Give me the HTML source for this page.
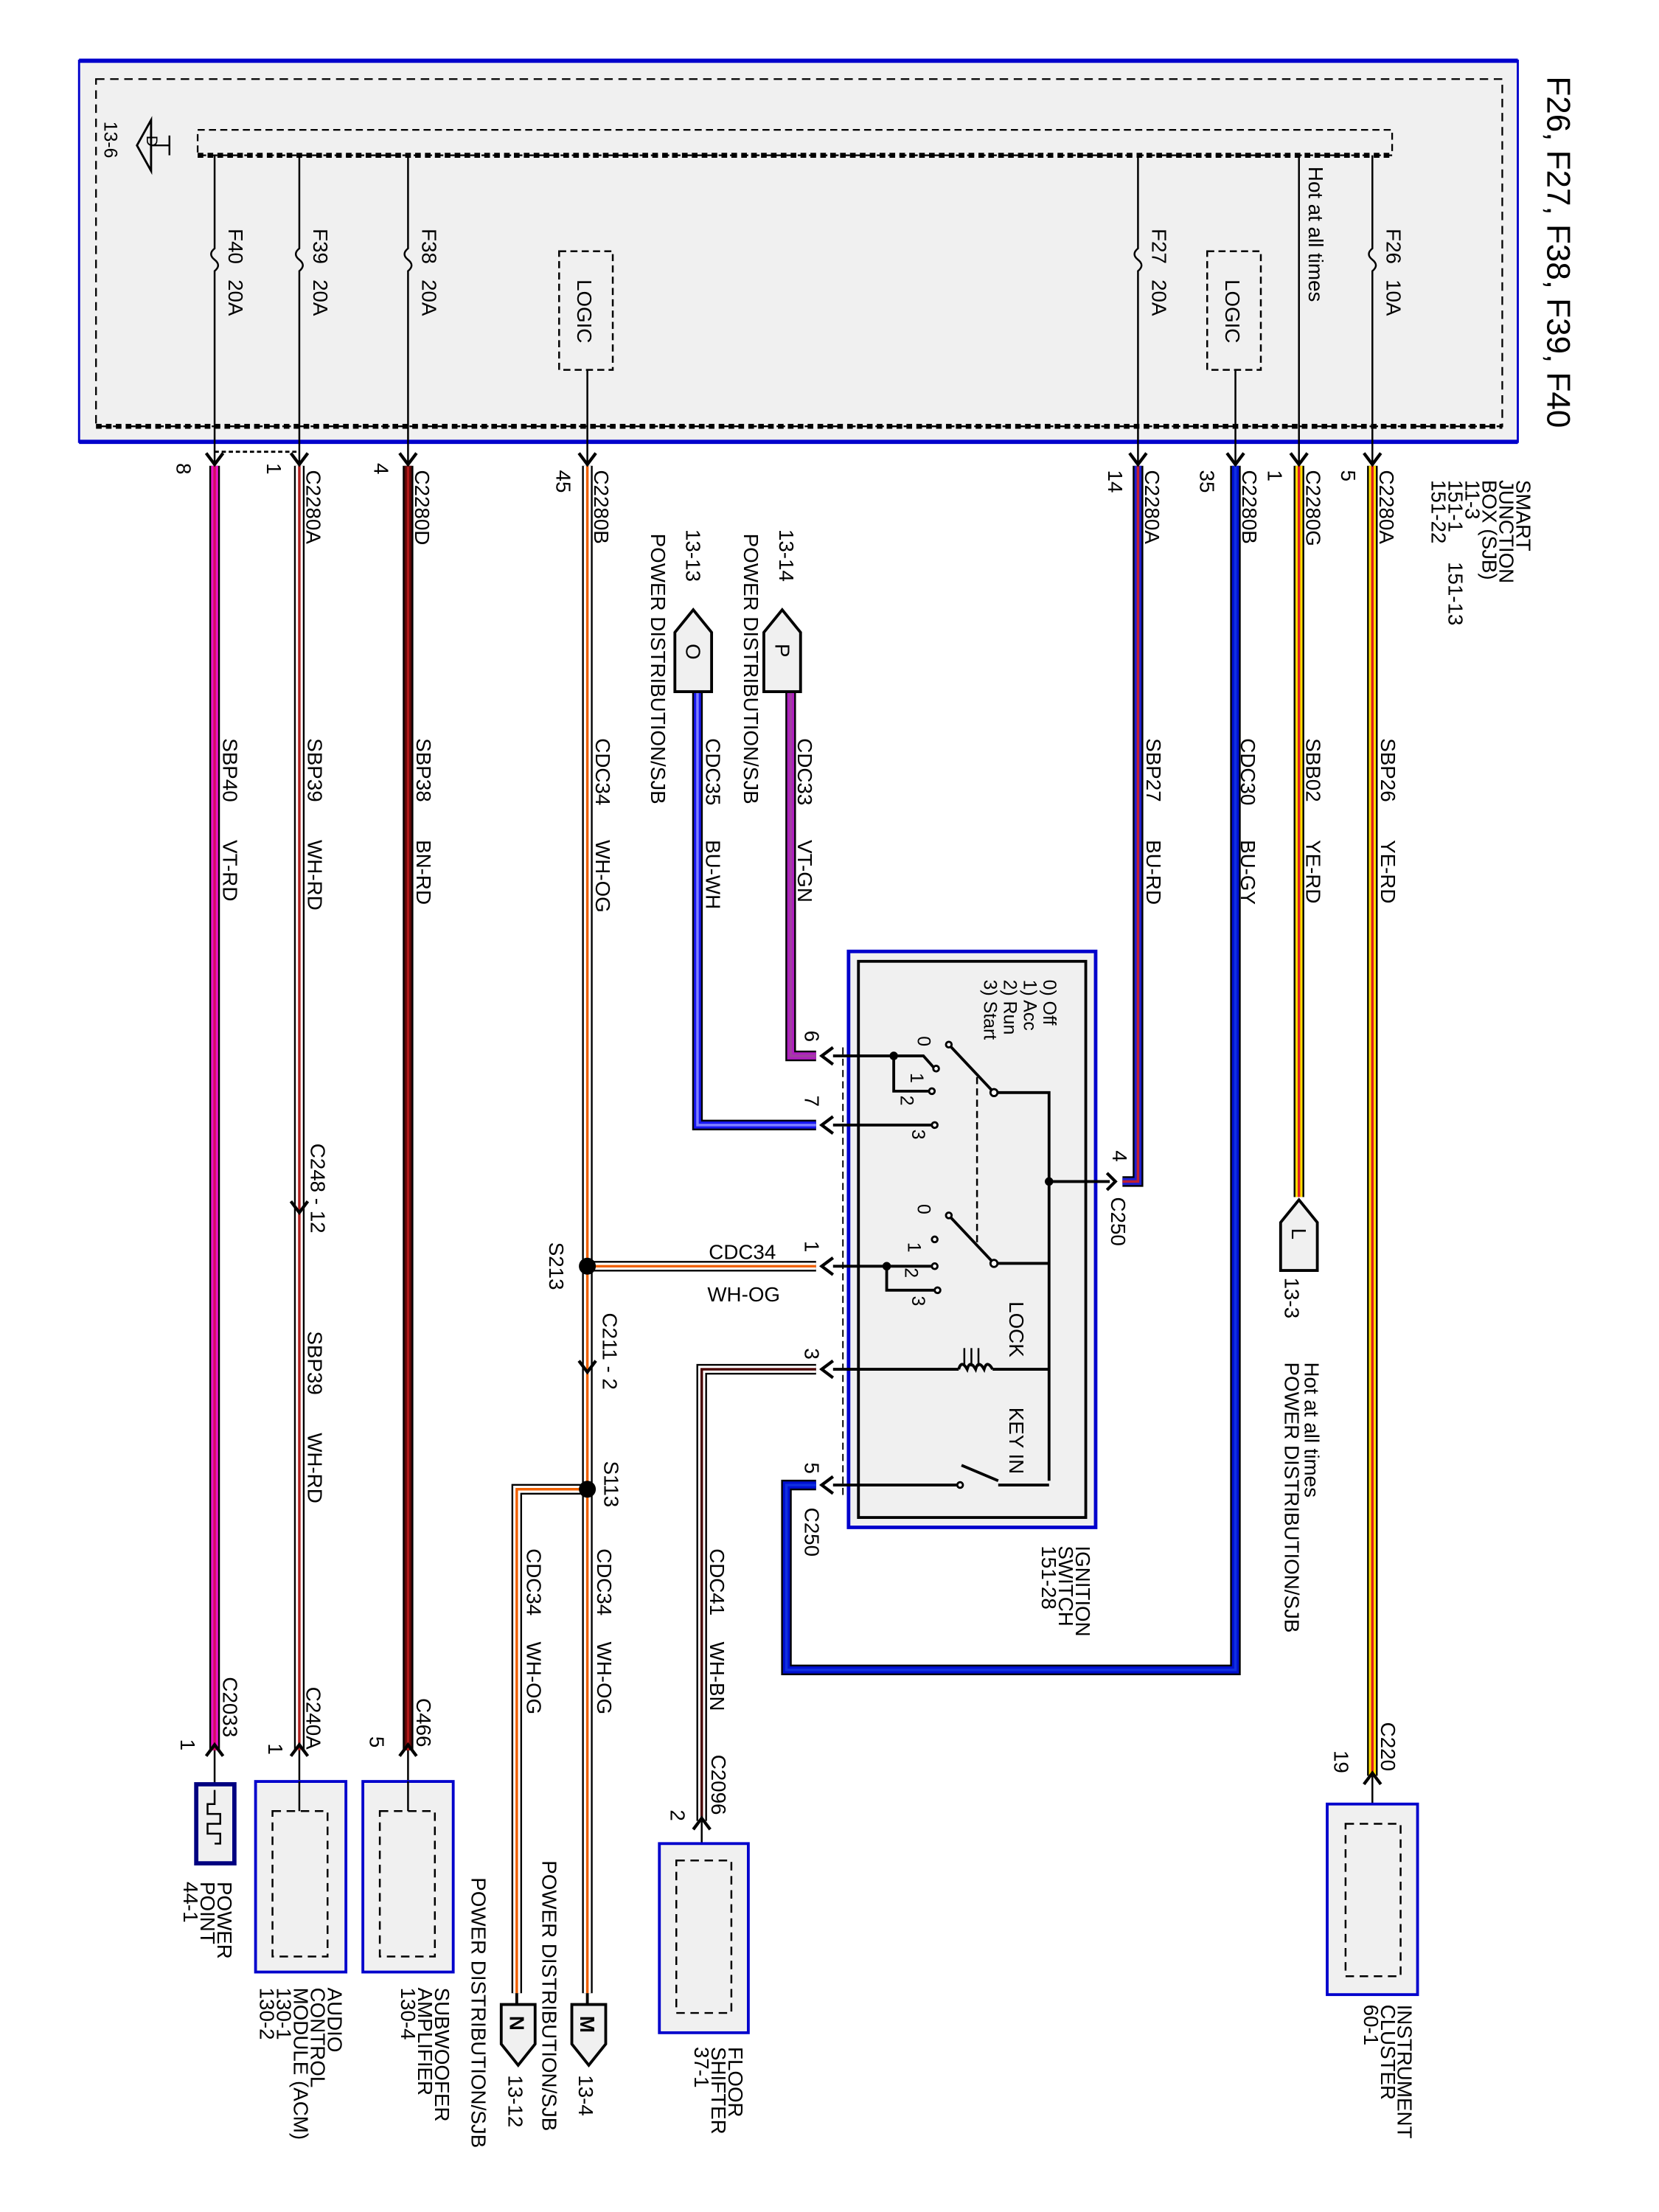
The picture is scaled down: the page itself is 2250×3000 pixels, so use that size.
<!DOCTYPE html>
<html><head><meta charset="utf-8"><style>
html,body{margin:0;padding:0;background:#fff}
svg{display:block}
text{font-family:"Liberation Sans",sans-serif;font-size:14.5px;fill:#000}
.o{fill:none;stroke:#000;stroke-width:7.5}
.w{fill:none;stroke-width:5}
.s{fill:none;stroke-width:1.8}
.ln{fill:none;stroke:#000;stroke-width:1.3}
.lt{fill:none;stroke:#000;stroke-width:2}
.ar{fill:none;stroke:#000;stroke-width:2.2}
.sm{font-size:13px}
</style></head><body>
<svg width="2250" height="3000" viewBox="0 0 1175 1567" preserveAspectRatio="none" xmlns="http://www.w3.org/2000/svg">
<rect width="1175" height="1567" fill="#fff"/>
<!-- SJB box -->
<rect x="56" y="43" width="1019" height="270" fill="#f0f0f0" stroke="#0000cc" stroke-width="1.5"/>
<line x1="56" y1="43" x2="1075" y2="43" stroke="#0000cc" stroke-width="3"/>
<line x1="56" y1="313" x2="1075" y2="313" stroke="#0000cc" stroke-width="3"/>
<rect x="68" y="56" width="996" height="246" fill="none" stroke="#000" stroke-width="1.2" stroke-dasharray="6,4"/>
<line x1="68" y1="302" x2="1064" y2="302" stroke="#000" stroke-width="3.5" stroke-dasharray="4,3"/>
<rect x="140" y="92" width="846" height="18" fill="none" stroke="#000" stroke-width="1.2" stroke-dasharray="5,3"/>
<line x1="140" y1="110" x2="986" y2="110" stroke="#000" stroke-width="3.5" stroke-dasharray="4,3"/>
<polygon points="97,103 107,85 107,121" fill="#f0f0f0" stroke="#000" stroke-width="1.5"/>
<line x1="107" y1="103" x2="120" y2="103" class="ln"/><line x1="120" y1="96" x2="120" y2="110" class="ln"/>
<text transform="translate(104,96) rotate(90)" style="font-size:11px">D</text>
<text transform="translate(74,86) rotate(90)" class="sm">13-6</text>
<text transform="translate(1096,54) rotate(90)" style="font-size:23px">F26, F27, F38, F39, F40</text>
<!-- fuse lines -->
<g class="ln">
<path d="M152,110 V176 q-5,4 0,8 q5,4 0,8 V328"/>
<path d="M212,110 V176 q-5,4 0,8 q5,4 0,8 V328"/>
<path d="M289,110 V176 q-5,4 0,8 q5,4 0,8 V328"/>
<path d="M806,110 V176 q-5,4 0,8 q5,4 0,8 V328"/>
<path d="M972,110 V176 q-5,4 0,8 q5,4 0,8 V328"/>
<path d="M920,110 V328"/>
<path d="M416,262 V328"/><path d="M875,262 V328"/>
</g>
<line x1="152" y1="320" x2="212" y2="320" stroke="#000" stroke-width="1.5" stroke-dasharray="3,2"/>
<rect x="396" y="178" width="38" height="84" fill="none" stroke="#000" stroke-width="1.3" stroke-dasharray="5,3"/>
<rect x="855" y="178" width="38" height="84" fill="none" stroke="#000" stroke-width="1.3" stroke-dasharray="5,3"/>
<text transform="translate(409,198) rotate(90)">LOGIC</text>
<text transform="translate(868,198) rotate(90)">LOGIC</text>
<text transform="translate(162,162) rotate(90)">F40</text><text transform="translate(162,198) rotate(90)">20A</text>
<text transform="translate(222,162) rotate(90)">F39</text><text transform="translate(222,198) rotate(90)">20A</text>
<text transform="translate(299,162) rotate(90)">F38</text><text transform="translate(299,198) rotate(90)">20A</text>
<text transform="translate(816,162) rotate(90)">F27</text><text transform="translate(816,198) rotate(90)">20A</text>
<text transform="translate(982,162) rotate(90)">F26</text><text transform="translate(982,198) rotate(90)">10A</text>
<text transform="translate(927,118) rotate(90)">Hot at all times</text>
<!-- SJB labels -->
<text transform="translate(1074,340) rotate(90)">SMART</text>
<text transform="translate(1062,340) rotate(90)">JUNCTION</text>
<text transform="translate(1050,340) rotate(90)">BOX (SJB)</text>
<text transform="translate(1038,340) rotate(90)">11-3</text>
<text transform="translate(1026,340) rotate(90)">151-1</text>
<text transform="translate(1014,340) rotate(90)">151-22</text>
<text transform="translate(1026,398) rotate(90)">151-13</text>

<!-- wires -->
<g>
<path class="o" d="M152,330 V1240"/><path class="w" stroke="#ee10c8" d="M152,330 V1240"/><path class="s" stroke="#d01060" d="M152,330 V1240"/>
<path class="o" d="M212,330 V1240"/><path class="w" stroke="#fff" d="M212,330 V1240"/><path class="s" stroke="#b02020" d="M212,330 V1240"/>
<path class="o" d="M289,330 V1240"/><path class="w" stroke="#5a0808" d="M289,330 V1240"/><path class="s" stroke="#b01818" d="M289,330 V1240"/>
<path class="o" d="M416,330 V1412"/><path class="w" stroke="#fff" d="M416,330 V1412"/><path class="s" stroke="#f06000" d="M416,330 V1412"/>
<path class="o" d="M416,897 H578"/><path class="w" stroke="#fff" d="M416,897 H578"/><path class="s" stroke="#f06000" d="M416,897 H578"/>
<path class="o" d="M416,1055 H366 V1412"/><path class="w" stroke="#fff" d="M416,1055 H366 V1412"/><path class="s" stroke="#f06000" d="M416,1055 H366 V1412"/>
<path class="o" d="M560,490 V748 H578"/><path class="w" stroke="#b020c0" d="M560,490 V748 H578"/><path class="s" stroke="#a040a0" d="M560,490 V748 H578"/>
<path class="o" d="M494,490 V797 H578"/><path class="w" stroke="#1818f0" d="M494,490 V797 H578"/><path class="s" stroke="#8080ff" d="M494,490 V797 H578"/>
<path class="o" d="M806,330 V837 H795"/><path class="w" stroke="#2020d0" d="M806,330 V837 H795"/><path class="s" stroke="#c02030" d="M806,330 V837 H795"/>
<path class="o" stroke-width="9" d="M875,330 V1183 H557 V1052 H578"/><path class="w" stroke-width="7" stroke="#0010d0" d="M875,330 V1183 H557 V1052 H578"/><path class="s" stroke="#1030e0" d="M875,330 V1183 H557 V1052 H578"/>
<path class="o" d="M920,330 V848"/><path class="w" stroke="#ffe000" d="M920,330 V848"/><path class="s" stroke="#e02020" d="M920,330 V848"/>
<path class="o" d="M972,330 V1258"/><path class="w" stroke="#ffe000" d="M972,330 V1258"/><path class="s" stroke="#e02020" d="M972,330 V1258"/>
<path class="o" d="M578,970 H497 V1290"/><path class="w" stroke="#fff" d="M578,970 H497 V1290"/><path class="s" stroke="#4a0000" d="M578,970 H497 V1290"/>
</g>
<!-- connector arrows -->
<g class="ar">
<path d="M146,321 L152,329 L158,321"/><path d="M206,321 L212,329 L218,321"/><path d="M283,321 L289,329 L295,321"/>
<path d="M410,321 L416,329 L422,321"/><path d="M800,321 L806,329 L812,321"/><path d="M869,321 L875,329 L881,321"/>
<path d="M914,321 L920,329 L926,321"/><path d="M966,321 L972,329 L978,321"/>
<path d="M206,851 L212,859 L218,851"/><path d="M410,964 L416,972 L422,964"/>
<path d="M146,1244 L152,1236 L158,1244"/><path d="M206,1244 L212,1236 L218,1244"/><path d="M283,1244 L289,1236 L295,1244"/>
<path d="M966,1264 L972,1256 L978,1264"/><path d="M491,1296 L497,1288 L503,1296"/>
<path d="M590,742 L582,748 L590,754"/><path d="M590,791 L582,797 L590,803"/><path d="M590,891 L582,897 L590,903"/>
<path d="M590,964 L582,970 L590,976"/><path d="M590,1046 L582,1052 L590,1058"/>
<path d="M784,831 L790,837 L784,843"/>
</g>
<circle cx="416" cy="897" r="6"/><circle cx="416" cy="1055" r="6"/>
<g class="ln"><path d="M152,1240 V1320"/><path d="M212,1240 V1283"/><path d="M289,1240 V1283"/><path d="M972,1258 V1292"/><path d="M497,1290 V1318"/></g>
<!-- connector labels -->
<text transform="translate(977,333) rotate(90)">C2280A</text><text transform="translate(950,333) rotate(90)">5</text>
<text transform="translate(925,333) rotate(90)">C2280G</text><text transform="translate(898,333) rotate(90)">1</text>
<text transform="translate(880,333) rotate(90)">C2280B</text><text transform="translate(850,333) rotate(90)">35</text>
<text transform="translate(811,333) rotate(90)">C2280A</text><text transform="translate(785,333) rotate(90)">14</text>
<text transform="translate(421,333) rotate(90)">C2280B</text><text transform="translate(394,333) rotate(90)">45</text>
<text transform="translate(294,333) rotate(90)">C2280D</text><text transform="translate(265,328) rotate(90)">4</text>
<text transform="translate(217,333) rotate(90)">C2280A</text><text transform="translate(189,328) rotate(90)">1</text>
<text transform="translate(125,328) rotate(90)">8</text>
<!-- wire labels -->
<text transform="translate(978,523) rotate(90)">SBP26</text><text transform="translate(978,595) rotate(90)">YE-RD</text>
<text transform="translate(925,523) rotate(90)">SBB02</text><text transform="translate(925,595) rotate(90)">YE-RD</text>
<text transform="translate(879,523) rotate(90)">CDC30</text><text transform="translate(879,595) rotate(90)">BU-GY</text>
<text transform="translate(812,523) rotate(90)">SBP27</text><text transform="translate(812,595) rotate(90)">BU-RD</text>
<text transform="translate(565,523) rotate(90)">CDC33</text><text transform="translate(565,595) rotate(90)">VT-GN</text>
<text transform="translate(500,523) rotate(90)">CDC35</text><text transform="translate(500,595) rotate(90)">BU-WH</text>
<text transform="translate(422,523) rotate(90)">CDC34</text><text transform="translate(422,595) rotate(90)">WH-OG</text>
<text transform="translate(295,523) rotate(90)">SBP38</text><text transform="translate(295,595) rotate(90)">BN-RD</text>
<text transform="translate(218,523) rotate(90)">SBP39</text><text transform="translate(218,595) rotate(90)">WH-RD</text>
<text transform="translate(158,523) rotate(90)">SBP40</text><text transform="translate(158,595) rotate(90)">VT-RD</text>
<!-- P / O connectors -->
<polygon points="541,448 554,432 567,448 567,490 541,490" fill="#f0f0f0" stroke="#000" stroke-width="2"/>
<text transform="translate(549,456) rotate(90)">P</text>
<polygon points="478,448 491,432 504,448 504,490 478,490" fill="#f0f0f0" stroke="#000" stroke-width="2"/>
<text transform="translate(486,456) rotate(90)">O</text>
<text transform="translate(552,375) rotate(90)">13-14</text>
<text transform="translate(527,378) rotate(90)">POWER DISTRIBUTION/SJB</text>
<text transform="translate(486,375) rotate(90)">13-13</text>
<text transform="translate(461,378) rotate(90)">POWER DISTRIBUTION/SJB</text>
<text transform="translate(220,810) rotate(90)">C248 - 12</text>
<text transform="translate(218,943) rotate(90)">SBP39</text><text transform="translate(218,1015) rotate(90)">WH-RD</text>
<text x="502" y="892">CDC34</text><text x="501" y="922">WH-OG</text>
<text transform="translate(389,880) rotate(90)">S213</text>
<text transform="translate(427,930) rotate(90)">C211 - 2</text>
<text transform="translate(428,1035) rotate(90)">S113</text>
<text transform="translate(373,1097) rotate(90)">CDC34</text><text transform="translate(373,1163) rotate(90)">WH-OG</text>
<text transform="translate(423,1097) rotate(90)">CDC34</text><text transform="translate(423,1163) rotate(90)">WH-OG</text>
<text transform="translate(503,1097) rotate(90)">CDC41</text><text transform="translate(503,1163) rotate(90)">WH-BN</text>
<text transform="translate(504,1243) rotate(90)">C2096</text><text transform="translate(475,1282) rotate(90)">2</text>
<!-- ignition switch -->
<rect x="601" y="674" width="175" height="408" fill="#f0f0f0" stroke="#0000cc" stroke-width="2.5"/>
<rect x="608" y="681" width="161" height="394" fill="none" stroke="#000" stroke-width="2"/>
<line x1="597" y1="742" x2="597" y2="1060" stroke="#000" stroke-width="1" stroke-dasharray="5,3"/>
<text transform="translate(739,694) rotate(90)" class="sm">0) Off</text>
<text transform="translate(725,694) rotate(90)" class="sm">1) Acc</text>
<text transform="translate(711,694) rotate(90)" class="sm">2) Run</text>
<text transform="translate(697,694) rotate(90)" class="sm">3) Start</text>
<g class="lt">
<path d="M590,748 H654 L662,757"/><path d="M633,748 V773 H660"/><path d="M590,797 H662"/>
<path d="M704,774 L672,740"/><path d="M704,774 H743 V1049"/><path d="M743,837 H786"/>
<path d="M590,897 H662"/><path d="M628,897 V914 H664"/>
<path d="M704,895 L672,861"/><path d="M704,895 H743"/>
<path d="M590,970 H679"/><path d="M703,970 H743"/>
<path d="M679,970 q2,-7 6,0 q2,-7 6,0 q2,-7 6,0 q2,-7 6,0"/>
<path d="M590,1052 H680"/><path d="M707,1049 L681,1038"/><path d="M707,1052 H743"/>
</g>
<g stroke="#000" stroke-width="1.3"><line x1="683" y1="955" x2="683" y2="968"/><line x1="688" y1="955" x2="688" y2="968"/><line x1="693" y1="955" x2="693" y2="968"/></g>
<line x1="692" y1="763" x2="692" y2="880" stroke="#000" stroke-width="1.3" stroke-dasharray="5,3"/>
<g fill="#fff" stroke="#000" stroke-width="1.5">
<circle cx="663" cy="757" r="2"/><circle cx="660" cy="773" r="2"/><circle cx="662" cy="797" r="2"/><circle cx="704" cy="774" r="2.5"/>
<circle cx="662" cy="878" r="2"/><circle cx="662" cy="897" r="2"/><circle cx="664" cy="914" r="2"/><circle cx="704" cy="895" r="2.5"/>
<circle cx="680" cy="1052" r="2"/><circle cx="672" cy="740" r="2"/><circle cx="672" cy="861" r="2"/>
</g>
<circle cx="633" cy="748" r="3"/><circle cx="628" cy="897" r="3"/><circle cx="743" cy="837" r="3"/>
<text transform="translate(650,734) rotate(90)" class="sm">0</text>
<text transform="translate(645,760) rotate(90)" class="sm">1</text>
<text transform="translate(638,776) rotate(90)" class="sm">2</text>
<text transform="translate(646,800) rotate(90)" class="sm">3</text>
<text transform="translate(650,853) rotate(90)" class="sm">0</text>
<text transform="translate(643,880) rotate(90)" class="sm">1</text>
<text transform="translate(641,898) rotate(90)" class="sm">2</text>
<text transform="translate(646,918) rotate(90)" class="sm">3</text>
<text transform="translate(715,922) rotate(90)">LOCK</text>
<text transform="translate(715,997) rotate(90)">KEY IN</text>
<text transform="translate(570,730) rotate(90)">6</text>
<text transform="translate(570,776) rotate(90)">7</text>
<text transform="translate(788,815) rotate(90)">4</text>
<text transform="translate(787,848) rotate(90)">C250</text>
<text transform="translate(570,879) rotate(90)">1</text>
<text transform="translate(570,955) rotate(90)">3</text>
<text transform="translate(570,1036) rotate(90)">5</text>
<text transform="translate(570,1068) rotate(90)">C250</text>
<text transform="translate(762,1095) rotate(90)">IGNITION</text>
<text transform="translate(750,1095) rotate(90)">SWITCH</text>
<text transform="translate(738,1095) rotate(90)">151-28</text>
<!-- L connector -->
<polygon points="907,866 920,850 933,866 933,900 907,900" fill="#f0f0f0" stroke="#000" stroke-width="2"/>
<text transform="translate(915,870) rotate(90)">L</text>
<text transform="translate(910,905) rotate(90)">13-3</text>
<text transform="translate(910,965) rotate(90)">POWER DISTRIBUTION/SJB</text>
<text transform="translate(924,965) rotate(90)">Hot at all times</text>
<!-- instrument cluster -->
<text transform="translate(978,1220) rotate(90)">C220</text><text transform="translate(945,1240) rotate(90)">19</text>
<rect x="940" y="1278" width="64" height="135" fill="#f0f0f0" stroke="#0000cc" stroke-width="2"/>
<rect x="953" y="1292" width="39" height="108" fill="none" stroke="#000" stroke-width="1.3" stroke-dasharray="6,4"/>
<text transform="translate(990,1420) rotate(90)">INSTRUMENT</text>
<text transform="translate(978,1420) rotate(90)">CLUSTER</text>
<text transform="translate(966,1420) rotate(90)">60-1</text>
<!-- floor shifter -->
<rect x="467" y="1306" width="63" height="134" fill="#f0f0f0" stroke="#0000cc" stroke-width="2"/>
<rect x="479" y="1318" width="39" height="108" fill="none" stroke="#000" stroke-width="1.3" stroke-dasharray="6,4"/>
<text transform="translate(516,1450) rotate(90)">FLOOR</text>
<text transform="translate(504,1450) rotate(90)">SHIFTER</text>
<text transform="translate(492,1450) rotate(90)">37-1</text>
<!-- M / N -->
<line x1="416" y1="1412" x2="416" y2="1420" class="lt"/><line x1="366" y1="1412" x2="366" y2="1420" class="lt"/>
<polygon points="405,1420 429,1420 429,1448 417,1463 405,1448" fill="#f0f0f0" stroke="#000" stroke-width="2"/>
<polygon points="355,1420 379,1420 379,1448 367,1463 355,1448" fill="#f0f0f0" stroke="#000" stroke-width="2"/>
<text transform="translate(411,1428) rotate(90)" style="font-weight:bold">M</text>
<text transform="translate(361,1428) rotate(90)" style="font-weight:bold">N</text>
<text transform="translate(410,1470) rotate(90)">13-4</text>
<text transform="translate(360,1470) rotate(90)">13-12</text>
<text transform="translate(384,1318) rotate(90)">POWER DISTRIBUTION/SJB</text>
<text transform="translate(334,1330) rotate(90)">POWER DISTRIBUTION/SJB</text>
<!-- bottom left components -->
<text transform="translate(158,1188) rotate(90)">C2033</text><text transform="translate(128,1232) rotate(90)">1</text>
<text transform="translate(217,1195) rotate(90)">C240A</text><text transform="translate(190,1235) rotate(90)">1</text>
<text transform="translate(295,1203) rotate(90)">C466</text><text transform="translate(262,1230) rotate(90)">5</text>
<rect x="139" y="1264" width="27" height="56" fill="#f0f0f0" stroke="#000080" stroke-width="3"/>
<path d="M152,1268 V1278 H147 V1285 H156 V1292 H147 V1299 H156 V1306 H152" class="ln"/>
<rect x="181" y="1262" width="64" height="135" fill="#f0f0f0" stroke="#0000cc" stroke-width="2"/>
<rect x="193" y="1283" width="39" height="103" fill="none" stroke="#000" stroke-width="1.3" stroke-dasharray="6,4"/>
<rect x="257" y="1262" width="64" height="135" fill="#f0f0f0" stroke="#0000cc" stroke-width="2"/>
<rect x="269" y="1283" width="39" height="103" fill="none" stroke="#000" stroke-width="1.3" stroke-dasharray="6,4"/>
<g class="ln"><path d="M212,1262 V1283"/><path d="M289,1262 V1283"/></g>
<text transform="translate(154,1333) rotate(90)">POWER</text>
<text transform="translate(142,1333) rotate(90)">POINT</text>
<text transform="translate(130,1333) rotate(90)">44-1</text>
<text transform="translate(232,1408) rotate(90)">AUDIO</text>
<text transform="translate(220,1408) rotate(90)">CONTROL</text>
<text transform="translate(208,1408) rotate(90)">MODULE (ACM)</text>
<text transform="translate(196,1408) rotate(90)">130-1</text>
<text transform="translate(184,1408) rotate(90)">130-2</text>
<text transform="translate(308,1408) rotate(90)">SUBWOOFER</text>
<text transform="translate(296,1408) rotate(90)">AMPLIFIER</text>
<text transform="translate(284,1408) rotate(90)">130-4</text>
</svg>
</body></html>
